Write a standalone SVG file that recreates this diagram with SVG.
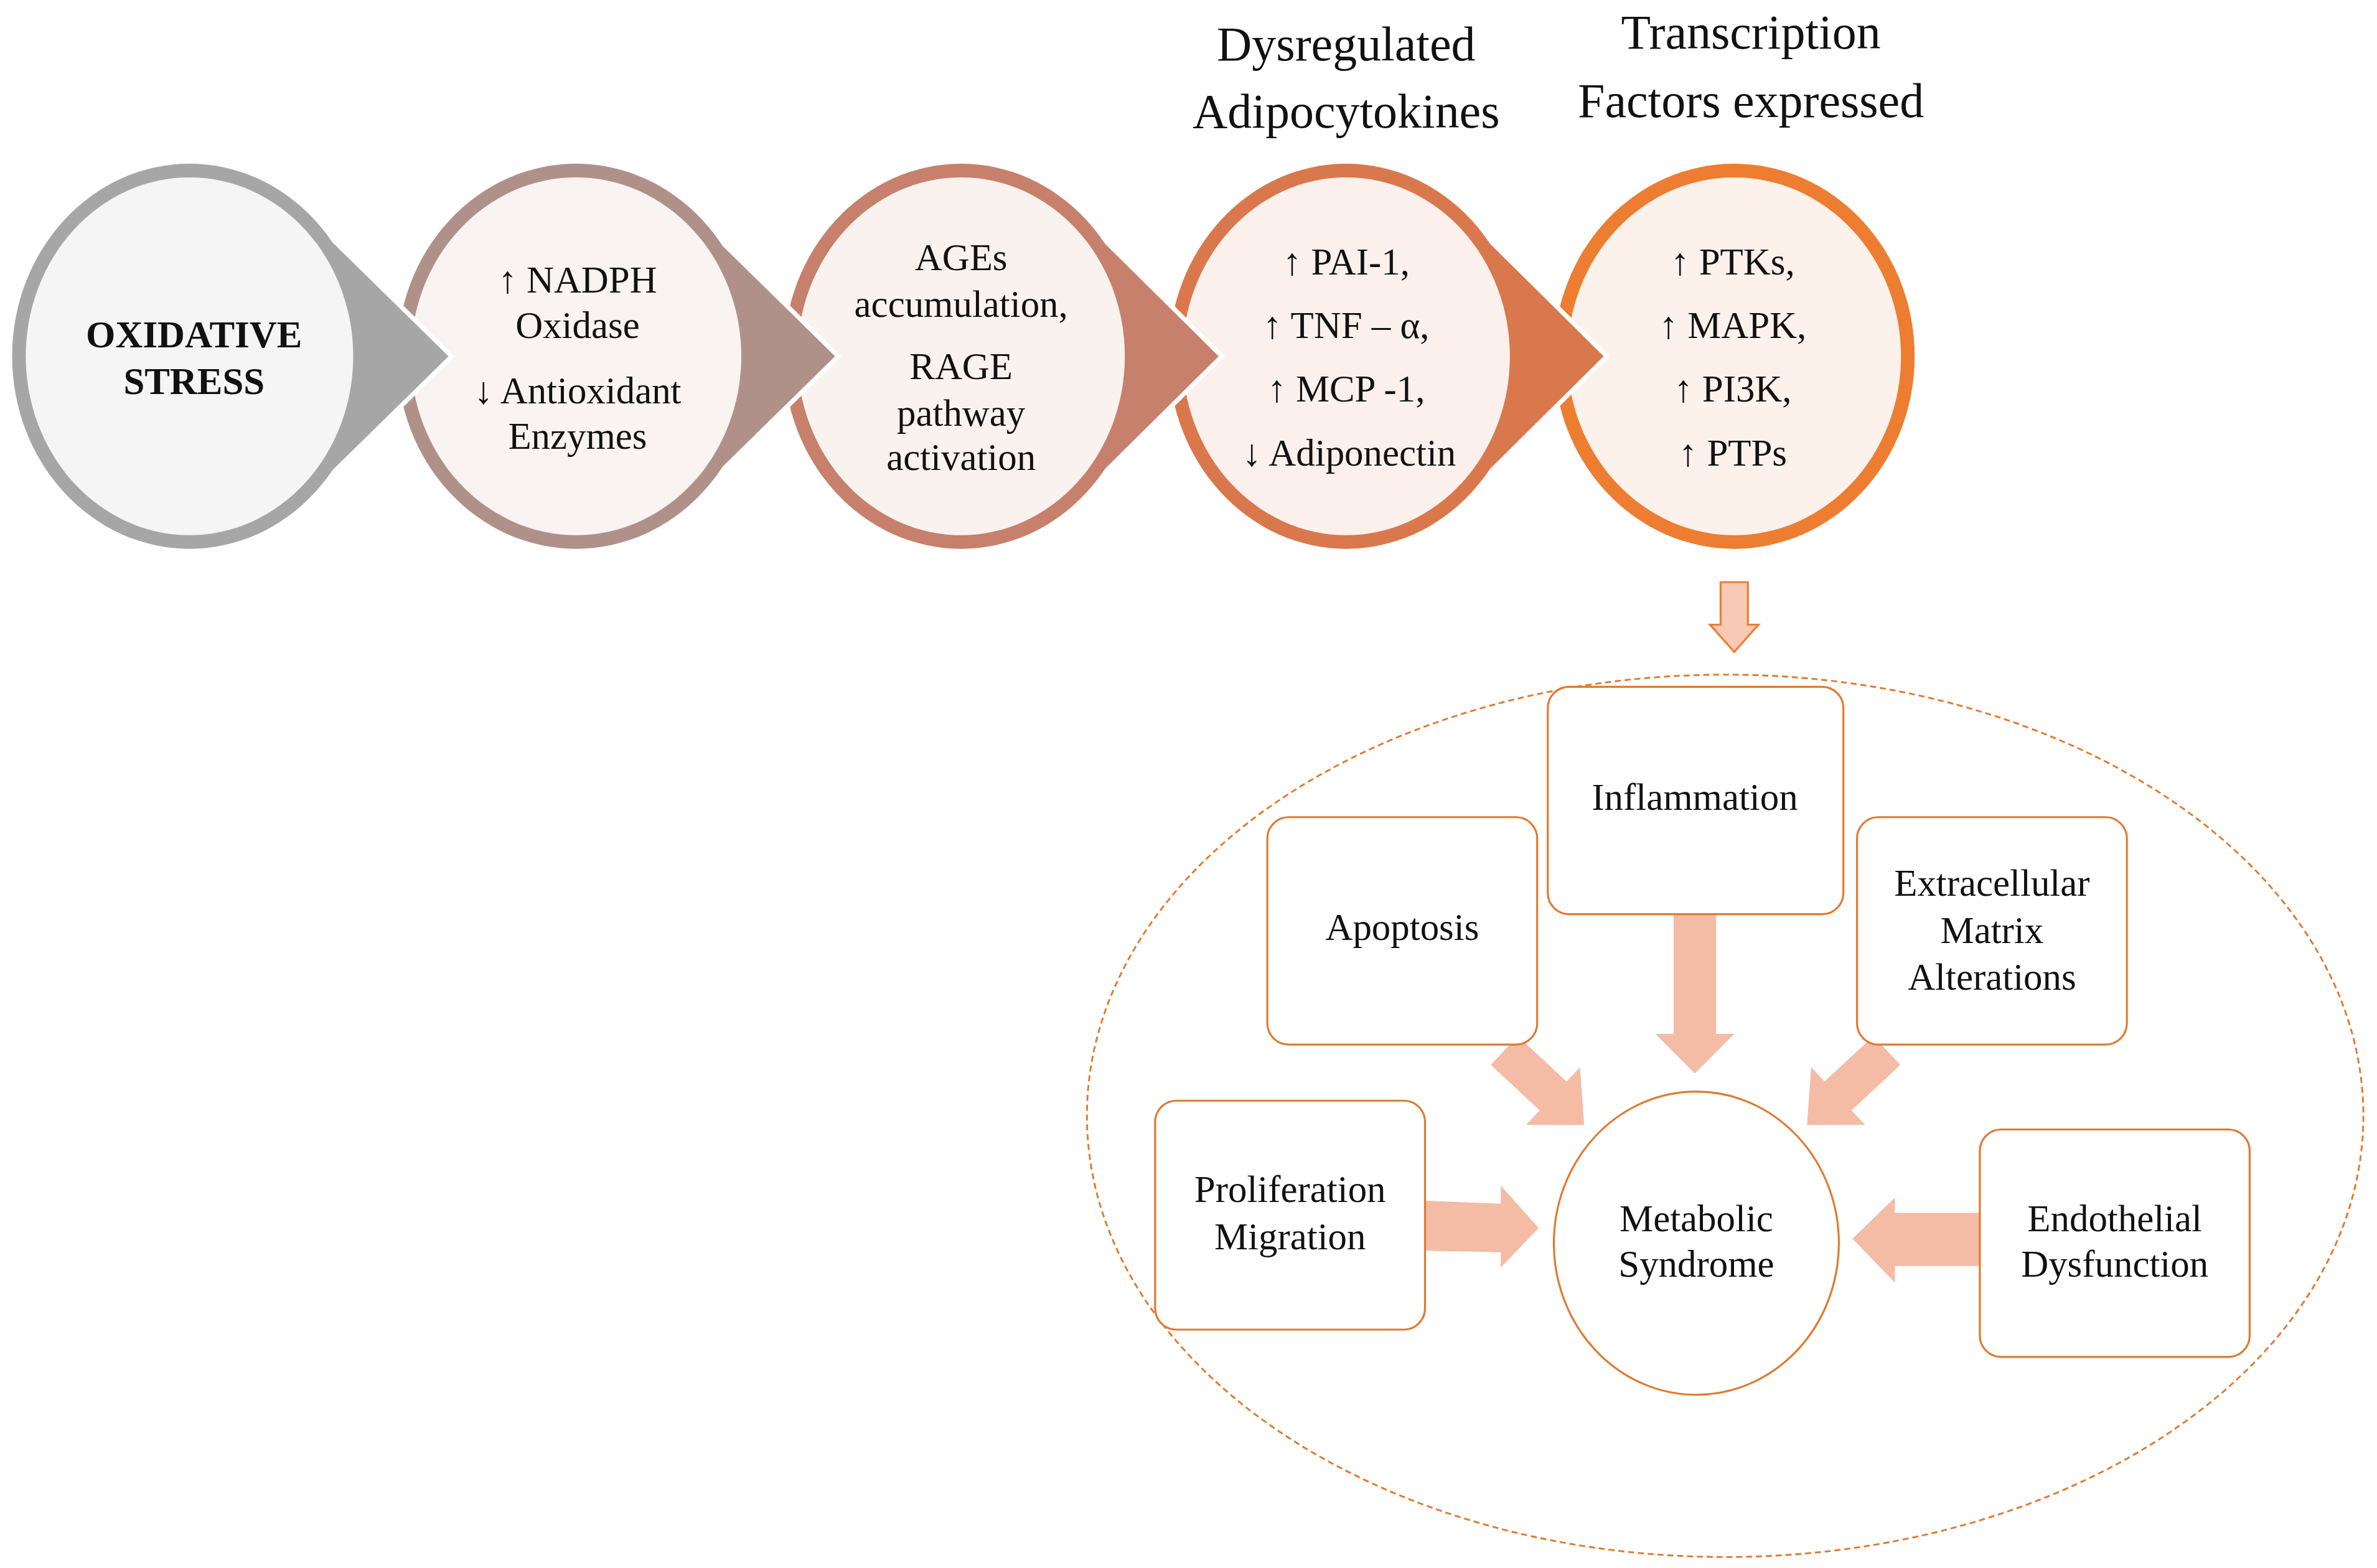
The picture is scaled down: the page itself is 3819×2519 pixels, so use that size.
<svg xmlns="http://www.w3.org/2000/svg" width="3819" height="2519" viewBox="0 0 3819 2519">
<style>
text{font-family:"Liberation Serif","Times New Roman",serif;fill:#111;text-anchor:middle}
.c{font-size:25px}
.h{font-size:32px}
.b{font-size:25px;font-weight:bold}
.box{fill:#fff;stroke:#e07a2f;stroke-width:1.3}
.ar{fill:#f4bba5}
</style>
<rect width="3819" height="2519" fill="#fff"/>
<g transform="scale(2.4356)">
<g id="n5">
<ellipse cx="1144" cy="235" rx="119" ry="127" fill="#ed7d31"/>
<ellipse cx="1144" cy="235" rx="110" ry="118" fill="#fdf1eb"/>
<text class="c" x="1143" y="181">↑ PTKs,</text>
<text class="c" x="1143" y="223">↑ MAPK,</text>
<text class="c" x="1143" y="265">↑ PI3K,</text>
<text class="c" x="1143" y="307">↑ PTPs</text>
<text class="h" x="1155" y="32">Transcription</text>
<text class="h" x="1155" y="77">Factors expressed</text>
</g>
<g id="n4">
<polygon points="955,131 1060,235 955,339" fill="#d9784d" stroke="#fff" stroke-width="3"/>
<ellipse cx="888" cy="235" rx="117" ry="127" fill="#d9784d"/>
<ellipse cx="888" cy="235" rx="108" ry="118" fill="#fbf0ec"/>
<text class="c" x="888" y="181">↑ PAI-1,</text>
<text class="c" x="888" y="223">↑ TNF – α,</text>
<text class="c" x="888" y="265">↑ MCP -1,</text>
<text class="c" x="890" y="307">↓ Adiponectin</text>
<text class="h" x="888" y="40">Dysregulated</text>
<text class="h" x="888" y="84">Adipocytokines</text>
</g>
<g id="n3">
<polygon points="701,131 806,235 701,339" fill="#c7806c" stroke="#fff" stroke-width="3"/>
<ellipse cx="634" cy="235" rx="117" ry="127" fill="#c7806c"/>
<ellipse cx="634" cy="235" rx="108" ry="118" fill="#faf2ef"/>
<text class="c" x="634" y="178">AGEs</text>
<text class="c" x="634" y="209">accumulation,</text>
<text class="c" x="634" y="250">RAGE</text>
<text class="c" x="634" y="281">pathway</text>
<text class="c" x="634" y="310">activation</text>
</g>
<g id="n2">
<polygon points="447,131 553,235 447,339" fill="#b0918a" stroke="#fff" stroke-width="3"/>
<ellipse cx="380" cy="235" rx="118" ry="127" fill="#b0918a"/>
<ellipse cx="380" cy="235" rx="109" ry="118" fill="#f9f3f2"/>
<text class="c" x="381" y="193">↑ NADPH</text>
<text class="c" x="381" y="223">Oxidase</text>
<text class="c" x="381" y="266">↓ Antioxidant</text>
<text class="c" x="381" y="296">Enzymes</text>
</g>
<g id="n1">
<polygon points="192,131 298,235 192,339" fill="#a6a6a6" stroke="#fff" stroke-width="3"/>
<ellipse cx="125" cy="235" rx="117" ry="127" fill="#a6a6a6"/>
<ellipse cx="125" cy="235" rx="108" ry="118" fill="#f5f5f5"/>
<text class="b" x="128" y="229">OXIDATIVE</text>
<text class="b" x="128" y="260">STRESS</text>
</g>
<g id="group">
<ellipse cx="1138" cy="736" rx="421" ry="291" fill="none" stroke="#e07a2f" stroke-width="1.2" stroke-dasharray="4,2.5"/>
</g>
<g id="connectors">
<polygon points="1135,384 1153,384 1153,412 1160,412 1144,430 1128,412 1135,412" fill="#f8c9b5" stroke="#ed7d31" stroke-width="1.3"/>
<polygon class="ar" points="1104,603 1132,603 1132,682 1144,682 1118,708 1092,682 1104,682"/>
<g transform="translate(1045,742) rotate(43)"><polygon class="ar" points="-72,-13 -28,-13 -28,-26 0,0 -28,26 -28,13 -72,13"/></g>
<g transform="translate(1192,742) rotate(137)"><polygon class="ar" points="-72,-13 -28,-13 -28,-26 0,0 -28,26 -28,13 -72,13"/></g>
<polygon class="ar" points="940,792 990,794 990,782 1015,810 990,836 990,826 940,825"/>
<polygon class="ar" points="1306,800 1250,800 1250,790 1222,817 1250,846 1250,835 1306,835"/>
</g>
<g id="inflammation"><rect class="box" x="1021" y="453" width="195" height="150" rx="14"/><text class="c" x="1118" y="534">Inflammation</text></g>
<g id="apoptosis"><rect class="box" x="836" y="539" width="178" height="150" rx="14"/><text class="c" x="925" y="620">Apoptosis</text></g>
<g id="ecm"><rect class="box" x="1225" y="539" width="178" height="150" rx="14"/><text class="c" x="1314" y="591">Extracellular</text><text class="c" x="1314" y="622">Matrix</text><text class="c" x="1314" y="653">Alterations</text></g>
<g id="prolif"><rect class="box" x="762" y="726" width="178" height="151" rx="14"/><text class="c" x="851" y="793">Proliferation</text><text class="c" x="851" y="824">Migration</text></g>
<g id="endo"><rect class="box" x="1306" y="745" width="178" height="150" rx="14"/><text class="c" x="1395" y="812">Endothelial</text><text class="c" x="1395" y="842">Dysfunction</text></g>
<g id="metabolic"><ellipse cx="1119" cy="820" rx="94" ry="100" fill="#fff" stroke="#e07a2f" stroke-width="1.3"/><text class="c" x="1119" y="812">Metabolic</text><text class="c" x="1119" y="842">Syndrome</text></g>
</g>
</svg>
